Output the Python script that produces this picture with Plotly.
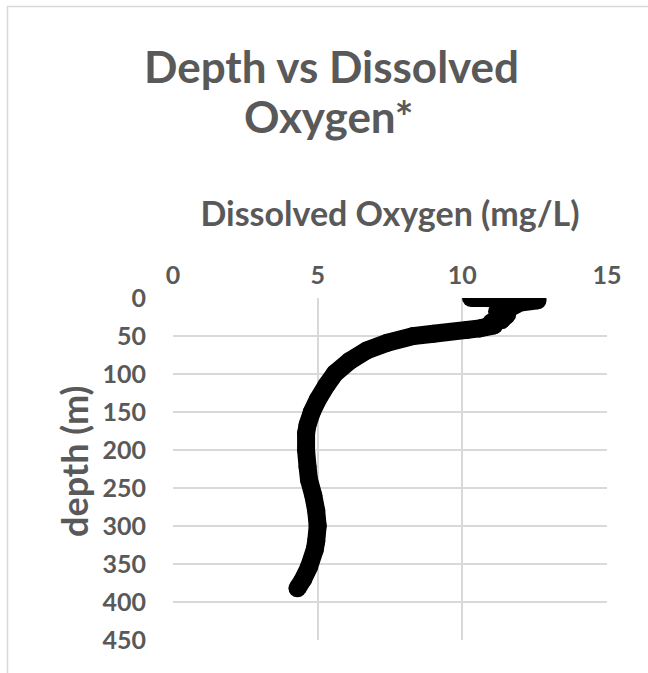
import plotly.graph_objects as go

# Dissolved oxygen (mg/L) and depth (m), in cast order
oxygen = [10.3, 10.8, 11.3, 11.8, 12.2, 12.6, 12.0, 11.6, 11.2, 11.55, 11.35, 11.0,
          11.1, 10.6, 10.16, 9.0, 8.3, 7.4, 6.7, 6.1, 5.6, 5.3, 5.0, 4.8, 4.65,
          4.6, 4.6, 4.65, 4.7, 4.85, 4.95, 5.0, 4.95, 4.9, 4.7, 4.5, 4.3]
depth = [0, 0, 0.5, 1, 2, 3, 6, 14, 18, 22, 29, 32,
         36, 40, 42, 47, 50, 59, 69, 83, 99, 115, 134, 150, 167,
         178, 200, 222, 239, 260, 280, 300, 320, 331, 354, 370, 382]

x_ticks = [0, 5, 10, 15]
y_ticks = [0, 50, 100, 150, 200, 250, 300, 350, 400, 450]

title_lines = ["Depth vs Dissolved", "Oxygen*"]
x_title = "Dissolved Oxygen (mg/L)"
y_title = "depth (m)"

GRAY = "#595959"
GRID = "#d9d9d9"
FONT = "Lato, 'Open Sans', sans-serif"

fig = go.Figure()
fig.add_trace(go.Scatter(
    x=oxygen, y=depth, mode="lines+markers",
    line=dict(color="black", width=18, simplify=False),
    marker=dict(color="black", size=18),
    showlegend=False, hoverinfo="x+y",
))

W, H = 648, 673
L, R, T, B = 173, 41, 298, 33
pw, ph = W - L - R, H - T - B

def px_x(p):
    return (p - L) / pw

def px_y(p):
    return (H - B - p) / ph

annotations = [
    dict(text=title_lines[0], xref="paper", yref="paper",
         x=px_x(331), y=px_y(66), xanchor="center", yanchor="middle",
         showarrow=False,
         font=dict(size=44, family=FONT, color=GRAY, weight="bold")),
    dict(text=title_lines[1], xref="paper", yref="paper",
         x=px_x(329), y=px_y(116), xanchor="center", yanchor="middle",
         showarrow=False,
         font=dict(size=44, family=FONT, color=GRAY, weight="bold")),
    dict(text=y_title, xref="paper", yref="paper",
         x=px_x(74), y=px_y(462), xanchor="center", yanchor="middle",
         textangle=-90, showarrow=False,
         font=dict(size=36, family=FONT, color=GRAY, weight="bold")),
]

fig.update_layout(
    width=W, height=H,
    margin=dict(l=L, r=R, t=T, b=B),
    paper_bgcolor="white", plot_bgcolor="white",
    font=dict(family=FONT, color=GRAY),
    xaxis=dict(
        side="top", range=[0, 15], tickvals=x_ticks,
        showgrid=True, gridcolor=GRID, gridwidth=1.5, zeroline=False,
        showline=False, ticks="", ticklabelstandoff=8,
        tickfont=dict(size=25, family=FONT, color=GRAY, weight="bold"),
        title=dict(text=x_title, standoff=22,
                   font=dict(size=34, family=FONT, color=GRAY, weight="bold")),
    ),
    yaxis=dict(
        range=[450, 0], tickvals=y_ticks,
        showgrid=True, gridcolor=GRID, gridwidth=1.5, zeroline=False,
        showline=False, ticks="", ticklabelstandoff=26,
        tickfont=dict(size=25, family=FONT, color=GRAY, weight="bold"),
    ),
    annotations=annotations,
    shapes=[dict(
        type="rect", xref="paper", yref="paper", layer="below",
        x0=px_x(7.5), x1=px_x(670), y0=px_y(700), y1=px_y(6.5),
        line=dict(color=GRID, width=1.5), fillcolor="rgba(0,0,0,0)",
    )],
)

fig.write_html(
    "out.html",
    config={"displayModeBar": False},
    post_script="document.body.style.margin='0';document.body.style.overflow='hidden';",
)
